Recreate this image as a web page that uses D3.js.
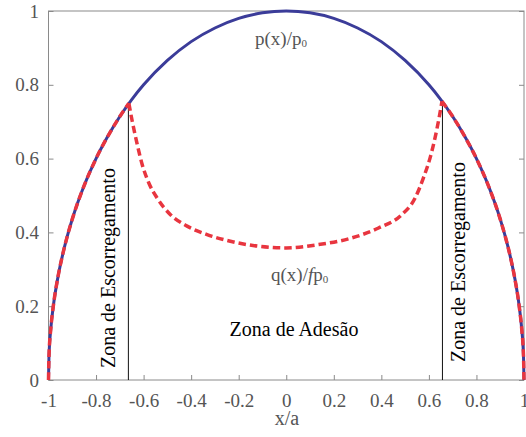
<!DOCTYPE html>
<html>
<head>
<meta charset="utf-8">
<script src="https://cdn.jsdelivr.net/npm/d3@7"></script>
<style>
  body { margin: 0; background: #fff; }
  svg { display: block; font-family: "Liberation Serif", "Times New Roman", serif; }
  .tick line { stroke: #8a8a8a; }
  .tick text { fill: #555; font-size: 19px; font-family: "Liberation Serif", serif; }
</style>
</head>
<body>
<svg id="chart" width="526" height="437"></svg>
<script>
// ── Data ────────────────────────────────────────────────────────────────────
const xTicks = [-1, -0.8, -0.6, -0.4, -0.2, 0, 0.2, 0.4, 0.6, 0.8, 1];
const yTicks = [0, 0.2, 0.4, 0.6, 0.8, 1];

// normal pressure p(x)/p0
const pX = [-1, -0.998, -0.99, -0.98, -0.96, -0.94, -0.92, -0.9, -0.85, -0.8, -0.75, -0.7, -0.65, -0.6,
            -0.5, -0.4, -0.3, -0.2, -0.1, 0, 0.1, 0.2, 0.3, 0.4, 0.5,
            0.6, 0.65, 0.7, 0.75, 0.8, 0.85, 0.9, 0.92, 0.94, 0.96, 0.98, 0.99, 0.998, 1];
const pY = [0, 0.063, 0.141, 0.199, 0.280, 0.341, 0.392, 0.436, 0.527, 0.600, 0.661, 0.714, 0.760, 0.800,
            0.866, 0.917, 0.954, 0.980, 0.995, 1.000, 0.995, 0.980, 0.954, 0.917, 0.866,
            0.800, 0.760, 0.714, 0.661, 0.600, 0.527, 0.436, 0.392, 0.341, 0.280, 0.199, 0.141, 0.063, 0];

// tangential traction q(x)/fp0 — slip zone left, stick zone, slip zone right
const slipLeftX = [-1, -0.998, -0.99, -0.98, -0.96, -0.94, -0.92, -0.9, -0.85, -0.8, -0.75, -0.7, -0.662];
const slipLeftY = [0, 0.063, 0.141, 0.199, 0.280, 0.341, 0.392, 0.436, 0.527, 0.600, 0.661, 0.714, 0.750];
const stickX = [-0.662, -0.648, -0.627, -0.606, -0.578, -0.543, -0.487, -0.417, -0.333, -0.235, -0.109, 0,
                0.136, 0.276, 0.388, 0.486, 0.542, 0.577, 0.605, 0.626, 0.643, 0.655];
const stickY = [0.750, 0.702, 0.639, 0.584, 0.534, 0.493, 0.448, 0.417, 0.394, 0.376, 0.362, 0.358,
                0.367, 0.385, 0.412, 0.448, 0.493, 0.548, 0.602, 0.657, 0.711, 0.755];
const slipRightX = [0.655, 0.7, 0.75, 0.8, 0.85, 0.9, 0.92, 0.94, 0.96, 0.98, 0.99, 0.998, 1];
const slipRightY = [0.755, 0.714, 0.661, 0.600, 0.527, 0.436, 0.392, 0.341, 0.280, 0.199, 0.141, 0.063, 0];

// stick / slip boundaries
const edgeX = [-0.664, 0.657];
const edgeY = [0.750, 0.754];

// ── Scales ──────────────────────────────────────────────────────────────────
const svg = d3.select('#chart');
const x = d3.scaleLinear().domain([-1, 1]).range([48.5, 524]);
const y = d3.scaleLinear().domain([0, 1]).range([380, 11]);

const zip = (xs, ys) => xs.map((v, i) => [v, ys[i]]);
const line = d3.line().x(d => x(d[0])).y(d => y(d[1])).curve(d3.curveMonotoneX);
const fmt = d => String(d); // plain hyphen, like the original

// Axes (ticks inward)
const styleAxis = g => {
  g.attr('font-family', '"Liberation Serif", serif').attr('font-size', 19);
  g.select('.domain').remove();
};
svg.append('g').attr('transform', `translate(0,${y(0)})`)
  .call(d3.axisBottom(x).tickValues(xTicks).tickSize(-5).tickPadding(14).tickFormat(fmt))
  .call(styleAxis);
svg.append('g').attr('transform', `translate(${x(-1)},0)`)
  .call(d3.axisLeft(y).tickValues(yTicks).tickSize(-5).tickPadding(9.5).tickFormat(fmt))
  .call(styleAxis);
svg.append('g').attr('transform', `translate(${x(1)},0)`)
  .call(d3.axisRight(y).tickValues(yTicks).tickSize(-5).tickFormat(''))
  .call(styleAxis);

// frame
svg.append('rect')
  .attr('x', x(-1)).attr('y', y(1))
  .attr('width', x(1) - x(-1)).attr('height', y(0) - y(1))
  .attr('fill', 'none').attr('stroke', '#8a8a8a').attr('stroke-width', 1);

// p(x)/p0
svg.append('path').datum(zip(pX, pY))
  .attr('d', line).attr('fill', 'none')
  .attr('stroke', '#3b3c99').attr('stroke-width', 3);

// stick/slip boundary lines
svg.selectAll('.edge').data(zip(edgeX, edgeY)).join('line')
  .attr('class', 'edge')
  .attr('x1', d => x(d[0])).attr('x2', d => x(d[0]))
  .attr('y1', y(0)).attr('y2', d => y(d[1]))
  .attr('stroke', '#111').attr('stroke-width', 1);

// q(x)/fp0
[zip(slipLeftX, slipLeftY), zip(stickX, stickY), zip(slipRightX, slipRightY)].forEach(seg => {
  svg.append('path').datum(seg)
    .attr('d', line).attr('fill', 'none')
    .attr('stroke', '#e8353f').attr('stroke-width', 3.5)
    .attr('stroke-dasharray', '7.5,4');
});

// Labels
const pLab = svg.append('text').attr('x', 255).attr('y', 45)
  .attr('font-size', 19).attr('fill', '#555');
pLab.append('tspan').text('p(x)/p');
pLab.append('tspan').attr('font-size', 11).attr('dy', 2).text('0');

const qLab = svg.append('text').attr('x', 271).attr('y', 281)
  .attr('font-size', 19).attr('fill', '#555');
qLab.append('tspan').text('q(x)/');
qLab.append('tspan').attr('font-style', 'italic').text('f');
qLab.append('tspan').text('p');
qLab.append('tspan').attr('font-size', 11).attr('dy', 2).text('0');

svg.append('text').attr('x', 294).attr('y', 336)
  .attr('text-anchor', 'middle').attr('font-size', 20).attr('fill', '#000')
  .text('Zona de Adesão');

svg.append('text').attr('transform', 'translate(115,368) rotate(-90)')
  .attr('font-size', 20).attr('fill', '#000').text('Zona de Escorregamento');
svg.append('text').attr('transform', 'translate(464.5,362) rotate(-90)')
  .attr('font-size', 20).attr('fill', '#000').text('Zona de Escorregamento');

svg.append('text').attr('x', 287).attr('y', 425)
  .attr('text-anchor', 'middle').attr('font-size', 20).attr('fill', '#555')
  .text('x/a');
</script>
</body>
</html>
